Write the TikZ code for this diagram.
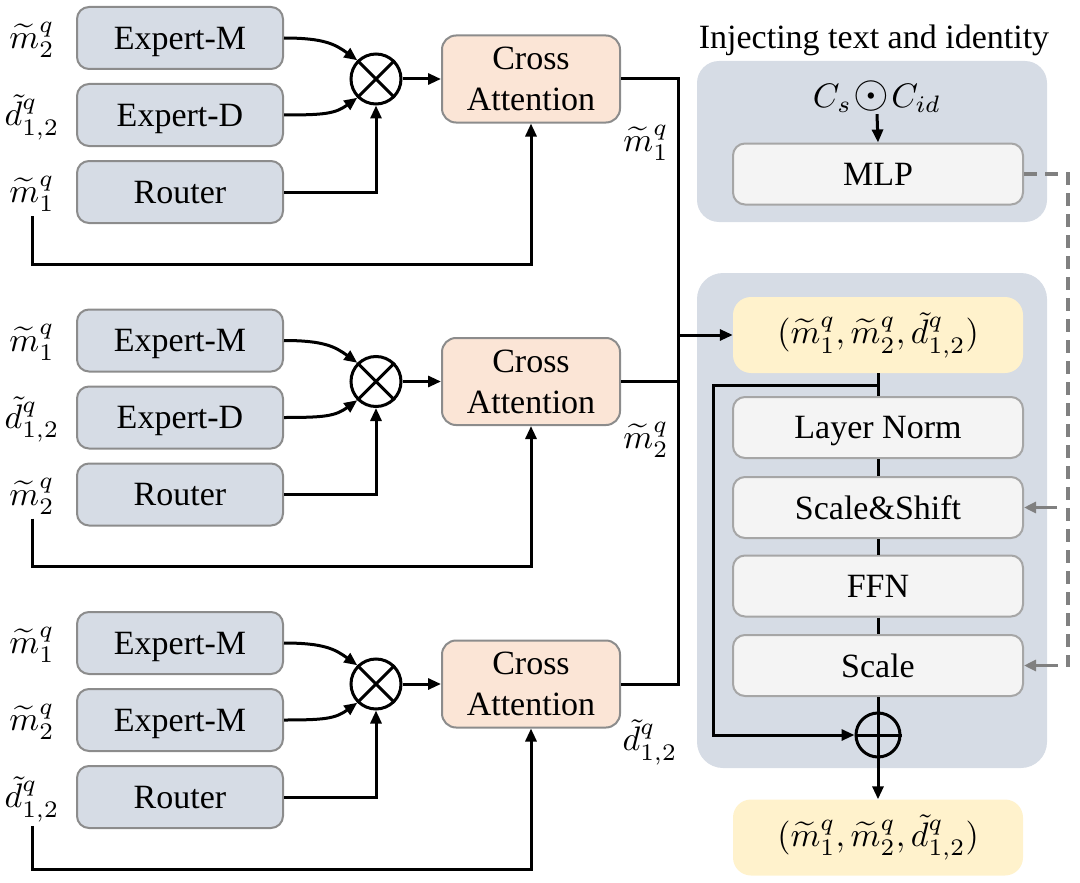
\documentclass[tikz,border=0pt]{standalone}
\usepackage{fontspec}
\setmainfont{Liberation Serif}
\usetikzlibrary{arrows.meta,calc}
\definecolor{boxblue}{HTML}{D6DCE5}
\definecolor{boxborder}{HTML}{8C8C8C}
\definecolor{peach}{HTML}{FBE5D6}
\definecolor{lightbox}{HTML}{F4F4F4}
\definecolor{lightborder}{HTML}{A6A6A6}
\definecolor{yellowbox}{HTML}{FFF2CC}
\definecolor{dashgray}{HTML}{808080}
\newcommand\mlab[1]{{\normalsize\scalebox{3.4}{$#1$}}}
\begin{document}
\begin{tikzpicture}[x=1pt,y=-1pt,
  every node/.style={font=\fontsize{34}{41}\selectfont},
  expbox/.style={draw=boxborder, line width=2pt, fill=boxblue, rounded corners=12pt, minimum width=206pt, minimum height=62pt, inner sep=0pt, text depth=0pt},
  cabox/.style={draw=boxborder, line width=2pt, fill=peach, rounded corners=14pt, minimum width=178pt, minimum height=87pt, inner sep=0pt, align=center},
  lbox/.style={draw=lightborder, line width=2pt, fill=lightbox, rounded corners=12pt, minimum width=290pt, minimum height=61pt, inner sep=0pt, text depth=0pt},
  ybox/.style={fill=yellowbox, rounded corners=18pt, minimum width=290pt, minimum height=76pt, inner sep=0pt},
  panel/.style={fill=boxblue, rounded corners=22pt, minimum width=350pt, inner sep=0pt},
  mult/.style={draw, circle, line width=3pt, minimum size=50pt, inner sep=0pt},
  arr/.style={line width=3pt, -{Triangle[length=13pt,width=11pt]}},
  conn/.style={line width=3pt},
  dsh/.style={draw=dashgray, line width=3.5pt, dash pattern=on 13pt off 8pt},
  garr/.style={draw=dashgray, line width=3pt, -{Triangle[length=12pt,width=11pt]}},
]
\useasboundingbox (0,0) rectangle (1080,883);

% ---------- left groups ----------
\foreach \k/\ta/\tb/\tc/\bb in {
  1/{\mlab{\widetilde{m}_2^q}}/{\mlab{\tilde{d}_{1,2}^q}}/{\mlab{\widetilde{m}_1^q}}/Expert-D,
  2/{\mlab{\widetilde{m}_1^q}}/{\mlab{\tilde{d}_{1,2}^q}}/{\mlab{\widetilde{m}_2^q}}/Expert-D,
  3/{\mlab{\widetilde{m}_1^q}}/{\mlab{\widetilde{m}_2^q}}/{\mlab{\tilde{d}_{1,2}^q}}/Expert-M}{
  \pgfmathsetmacro\dy{302.5*(\k-1)}
  \node[expbox] (ea\k) at (180, 38+\dy) {Expert-M};
  \node[expbox] (eb\k) at (180, 115+\dy) {\bb};
  \node[expbox] (er\k) at (180, 192+\dy) {Router};
  \node[inner sep=0pt] (la\k) at (32, 40+\dy) {\ta};
  \node[inner sep=0pt] (lb\k) at (32, 117+\dy) {\tb};
  \node[inner sep=0pt] (lc\k) at (32, 194+\dy) {\tc};
  \node[mult] (ot\k) at (376, 79+\dy) {};
  \draw[conn] (ot\k.45) -- (ot\k.225) (ot\k.135) -- (ot\k.315);
  \node[cabox] (ca\k) at (531, 79+\dy) {Cross\\Attention};
  \draw[arr] (ea\k.east) .. controls +(40,0) and +(-22,-16) .. (ot\k.135);
  \draw[arr] (eb\k.east) .. controls +(40,0) and +(-22,16) .. (ot\k.225);
  \draw[arr] (er\k.east) -| (ot\k.south);
  \draw[arr] (ot\k.east) -- (ca\k.west);
  \coordinate (bt\k) at (531, 264+\dy);
  \draw[arr] ([yshift=-4pt]lc\k.south) |- (bt\k) -- (ca\k.south);
}

% ---------- bus ----------
\coordinate (j1) at (678,79);
\coordinate (j2) at (678,381.5);
\coordinate (j3) at (678,684);
\coordinate (jy) at (678,335);
\draw[conn] (ca1.east) -- (j1) -- (j3) -- (ca3.east);
\draw[conn] (ca2.east) -- (j2);
\node[inner sep=0pt] (o1) at (646,143) {\mlab{\widetilde{m}_1^q}};
\node[inner sep=0pt] (o2) at (646,440) {\mlab{\widetilde{m}_2^q}};
\node[inner sep=0pt] (o3) at (650,742) {\mlab{\tilde{d}_{1,2}^q}};

% ---------- right: injecting panel ----------
\node (title) at (874,40) {Injecting text and identity};
\node[panel, minimum height=161pt] (p1) at (872,141.5) {};
\node[inner sep=1pt] (cin) at (877,97) {\mlab{C_s\mathbin{\!\scalebox{1.35}{$\odot$}\!}C_{id}}};
\node[lbox] (mlp) at (878,174) {MLP};
\draw[arr] (cin.south) -- (mlp.north);

% ---------- right: block panel ----------
\node[panel, minimum height=495pt, rounded corners=26pt] (p2) at (872,520.5) {};
\node[ybox] (y1) at (878,335) {\mlab{(\widetilde{m}_1^q,\widetilde{m}_2^q,\tilde{d}_{1,2}^q)}};
\node[lbox] (lnorm) at (878,427.5) {Layer Norm};
\node[lbox] (ss) at (878,507.5) {Scale\&Shift};
\node[lbox] (ffn) at (878,586) {FFN};
\node[lbox] (sc) at (878,665.5) {Scale};
\node[mult, minimum size=44pt] (op) at (878,735) {};
\draw[conn] (op.north) -- (op.south) (op.west) -- (op.east);
\node[ybox] (y2) at (878,837.5) {\mlab{(\widetilde{m}_1^q,\widetilde{m}_2^q,\tilde{d}_{1,2}^q)}};

\draw[arr] (jy) -- (y1.west);
\draw[conn] (y1.south) -- (lnorm.north);
\draw[conn] (lnorm.south) -- (ss.north);
\draw[conn] (ss.south) -- (ffn.north);
\draw[conn] (ffn.south) -- (sc.north);
\draw[conn] (sc.south) -- (op.north);
\coordinate (sk0) at (878,385);
\coordinate (sk1) at (713,385);
\coordinate (sk2) at (713,735);
\draw[arr] (sk0) -- (sk1) -- (sk2) -- (op.west);
\draw[arr] (op.south) -- (y2.north);

% ---------- dashed modulation ----------
\coordinate (d1) at (1068,174);
\coordinate (d2) at (1068,665.5);
\coordinate (d3) at (1057,665.5);
\coordinate (d4) at (1057,507.5);
\draw[dsh] (mlp.east) -- (d1) -- (d2) -- (d3);
\draw[garr] (d3) -- (sc.east);
\draw[garr] (d4) -- (ss.east);
\end{tikzpicture}
\end{document}
